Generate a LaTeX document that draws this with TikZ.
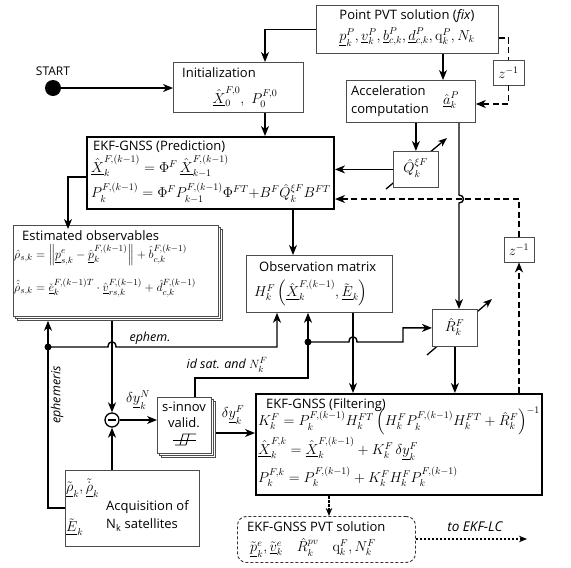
\documentclass[tikz,border=0pt]{standalone}
\usepackage{amsmath}
\usepackage[no-math]{fontspec}
\setsansfont{Open Sans}
\usetikzlibrary{arrows.meta,calc}
\begin{document}
\begin{tikzpicture}[x=1pt,y=-1pt,
 bx/.style={draw=black!70, line width=0.8pt, fill=white, inner sep=0pt, anchor=north west},
 tbx/.style={draw=black, line width=2pt, fill=white, inner sep=0pt, anchor=north west},
 ln/.style={line width=1.4pt},
 ar/.style={ln, -{Stealth[length=10pt,width=8pt,inset=3pt]}},
 dln/.style={ln, dash pattern=on 6pt off 3.5pt},
 dar/.style={ar, dash pattern=on 6pt off 3.5pt},
 dotar/.style={line width=1.1pt, dash pattern=on 2.5pt off 1.5pt, -{Stealth[length=8pt,width=6.5pt,inset=2.5pt]}},
 lab/.style={font=\sffamily\fontsize{13}{15}\selectfont, inner sep=0pt},
 ilab/.style={font=\sffamily\itshape\fontsize{12.5}{14}\selectfont, inner sep=0pt},
 mth/.style={font=\fontsize{14}{16}\selectfont, inner sep=0pt},
 smth/.style={font=\fontsize{13}{15}\selectfont, inner sep=0pt},
 adj/.style={line width=1.3pt, -{Stealth[length=9pt,width=7pt,inset=2.5pt]}},
 jdot/.style={circle, fill=black, inner sep=0pt, minimum size=7pt},
]
\useasboundingbox (0,0) rectangle (571,568);
\fill[white] (0,0) rectangle (571,568);

% ---------- boxes ----------
\node[bx, minimum width=182pt, minimum height=48pt] (pvt) at (316,5) {};
\node[bx, minimum width=130pt, minimum height=50pt] (init) at (173,62) {};
\node[bx, minimum width=129pt, minimum height=42pt] (acc) at (346,80) {};
\node[bx, mth, anchor=center, minimum width=31pt, minimum height=25pt] (z1) at (508.5,72.5) {$z^{-1}$};
\draw[adj] (386,189) -- (447,138);
\node[bx, minimum width=45pt, minimum height=36pt] (qb) at (393,151) {};
\node[tbx, minimum width=247pt, minimum height=72pt] (pred) at (86,136) {};
\node[bx, mth, anchor=center, minimum width=30pt, minimum height=25pt] (z2) at (519,249.5) {$z^{-1}$};
\node[bx, minimum width=205pt, minimum height=91pt] (estb) at (17,229) {};
\node[bx, minimum width=205pt, minimum height=91pt] (estm) at (15,227) {};
\node[bx, minimum width=205pt, minimum height=91pt] (est) at (13,225) {};
\node[bx, minimum width=146pt, minimum height=57pt] (obs) at (246,255) {};
\draw[adj] (427,355) -- (492,299);
\node[bx, minimum width=45pt, minimum height=37pt] (rb) at (432,309) {};
\node[tbx, minimum width=286pt, minimum height=101pt] (filt) at (255,393) {};
\node[bx, minimum width=54pt, minimum height=56pt] (svb) at (161,401) {};
\node[bx, minimum width=54pt, minimum height=56pt] (svm) at (159,399) {};
\node[bx, minimum width=54pt, minimum height=56pt] (sv) at (157,397) {};
\node[circle, draw, line width=1.3pt, fill=white, minimum size=14pt, inner sep=0pt] (minus) at (112,420) {};
\draw[line width=2.2pt] (108,420) -- (116,420);
\node[bx, minimum width=134pt, minimum height=76pt] (acq) at (65,470) {};
\node[draw=black!80, dash pattern=on 3pt off 2pt, line width=0.9pt, rounded corners=9pt, fill=white,
      minimum width=178pt, minimum height=46pt, anchor=north west, inner sep=0pt] (sol) at (237,516) {};
\node[circle, fill=black, minimum size=16pt, inner sep=0pt] (start) at (53,88) {};

% ---------- helper coordinates ----------
\coordinate (x265) at (265,0);
\coordinate (x443) at (443,0);
\coordinate (x459) at (459,0);
\coordinate (x293) at (293,0);
\coordinate (x68) at (68,0);
\coordinate (x48) at (48,0);
\coordinate (x112) at (112,0);
\coordinate (x277) at (277,0);
\coordinate (x308) at (308,0);
\coordinate (x353) at (353,0);
\coordinate (x329) at (329,0);
\coordinate (x195) at (195,0);
\coordinate (y38) at (0,38);
\coordinate (y104) at (0,104);
\coordinate (y199) at (0,199);
\coordinate (y177) at (0,177);
\coordinate (y508) at (0,508);
\coordinate (y433) at (0,433);
\coordinate (y378) at (0,378);
\coordinate (lc) at (527,539);

% ---------- connectors ----------
\draw[ar] (start.east) -- (init.west |- start.east);
\draw[ar] (pvt.west) -| (init.north -| x265);
\draw[ar] (init.south -| x265) -- (pred.north -| x265);
\draw[ar] (pvt.south -| x443) -- (acc.north -| x443);
\draw[dln] (pvt.east |- y38) -| (z1.north);
\draw[dar] (z1.south) |- (acc.east |- y104);
\draw[ar] (acc.south -| qb.north) -- (qb.north);
\draw[ar] (qb.west) -- (pred.east |- qb.west);
\draw[dar] (z2.north) |- (pred.east |- y199);
\draw[ar] (acc.south -| x459) -- (459,195) .. controls (465,195) and (465,203) .. (459,203) -- (rb.north -| x459);
\draw[dar] (filt.north -| z2.south) -- (z2.south);
\draw[ar] (pred.south -| x293) -- (obs.north -| x293);
\draw[ar] (pred.west |- y177) -| (estb.north -| x68);
\draw[ar] (acq.west |- y508) -| (estb.south -| x48);
\node[jdot] (d1) at (48,347) {};
\draw[ar] (d1.center) -- (108,347) .. controls (108,340) and (116,340) .. (116,347) -| (obs.south -| x277);
\draw[ar] (estb.south -| x112) -- (minus.north);
\draw[ar] (acq.north -| minus.south) -- (minus.south);
\draw[ar] (minus.east) -- (sv.west |- minus.east);
\draw[ar] (svb.east |- y433) -- (filt.west |- y433);
\draw[ar] (sv.north -| x195) |- (x308 |- y378) -- (obs.south -| x308);
\node[jdot] (d2) at (308,342) {};
\draw[ar] (d2.center) -- (349,342) .. controls (349,335) and (357,335) .. (357,342) -- (403,342) |- (rb.west);
\draw[ar] (obs.south -| x353) -- (filt.north -| x353);
\draw[ar] (rb.south) -- (filt.north -| rb.south);
\draw[dotar] (filt.south -| x329) -- (sol.north -| x329);
\draw[dotar] (sol.east |- lc) -- (lc);

% ---------- texts ----------
\node[lab, font=\sffamily\fontsize{12}{14}\selectfont] (tstart) at (53,71) {START};
\node[lab] (tpvt) at (407,16) {Point PVT solution (\textit{fix})};
\node[mth] (fpvt) at (407,37) {$\underline{p}_k^P,\underline{v}_k^P,\underline{b}_{c,k}^P,\underline{d}_{c,k}^P,\mathrm{q}_k^P,N_k$};
\node[lab, anchor=west] (tinit) at (182,73) {Initialization};
\node[mth] (finit) at (245,97) {$\hat{\underline{X}}_0^{F,0},\ P_0^{F,0}$};
\node[lab, anchor=west, align=left, font=\sffamily\fontsize{13}{18}\selectfont] (tacc) at (351,101) {Acceleration\\computation};
\node[mth] (facc) at (451,100) {$\hat{\underline{a}}_k^P$};
\node[mth] (fq) at (415.5,168) {$\hat{Q}_k^{\xi F}$};
\node[lab, anchor=west] (tpred) at (93,147) {EKF-GNSS (Prediction)};
\node[mth, anchor=west] (fpred1) at (91,166) {$\hat{\underline{X}}_k^{F,(k-1)} = \Phi^F\,\hat{\underline{X}}_{k-1}^{F,(k-1)}$};
\node[mth, anchor=west] (fpred2) at (91,193) {$P_k^{F,(k-1)} = \Phi^F P_{k-1}^{F,(k-1)}\Phi^{FT}{+}B^F\hat{Q}_k^{\xi F}B^{FT}$};
\node[lab, anchor=west] (test) at (22,236) {Estimated observables};
\node[smth, anchor=west] (fest1) at (14,255) {$\hat\rho_{s,k} = \left\|\underline{p}_{s,k}^e - \hat{\underline{p}}_k^{F,(k-1)}\right\| + \hat{b}_{c,k}^{F,(k-1)}$};
\node[smth, anchor=west] (fest2) at (14,288) {$\hat{\dot\rho}_{s,k} = \check{\underline{e}}_k^{F,(k-1)T}\cdot\hat{\underline{v}}_{rs,k}^{F,(k-1)} + \hat{d}_{c,k}^{F,(k-1)}$};
\node[lab, anchor=west] (tobs) at (259,267) {Observation matrix};
\node[mth, anchor=west] (fobs) at (254,293) {$H_k^F\left(\hat{\underline{X}}_k^{F,(k-1)},\tilde{\underline{E}}_k\right)$};
\node[mth] (fr) at (454.5,327) {$\hat{R}_k^F$};
\node[lab, anchor=west] (tfilt) at (266,405) {EKF-GNSS (Filtering)};
\node[mth, anchor=west] (ffilt1) at (258,421) {$K_k^F = P_k^{F,(k-1)}H_k^{FT}\left(H_k^FP_k^{F,(k-1)}H_k^{FT}+\hat{R}_k^F\right)^{-1}$};
\node[mth, anchor=west] (ffilt2) at (258,449) {$\hat{\underline{X}}_k^{F,k} = \hat{\underline{X}}_k^{F,(k-1)} + K_k^F\,\delta\underline{y}_k^F$};
\node[mth, anchor=west] (ffilt3) at (258,477) {$P_k^{F,k} = P_k^{F,(k-1)} + K_k^F H_k^F P_k^{F,(k-1)}$};
\node[lab] (tsv1) at (184,407) {s-innov};
\node[lab] (tsv2) at (184,423) {valid.};
\draw[line width=0.8pt] (173,440) -- (196,440);
\draw[line width=0.8pt] (175,445) -- (186,445) -- (189,434) -- (196,434);
\draw[line width=0.8pt] (180,445) -- (183,434) -- (189,434);
\node[mth] (fdyn) at (138,400) {$\delta\underline{y}_k^N$};
\node[mth] (fdyf) at (233,415) {$\delta\underline{y}_k^F$};
\node[mth, anchor=west] (facq1) at (66,488) {$\tilde{\underline{\rho}}_k,\tilde{\dot{\underline{\rho}}}_k$};
\node[mth, anchor=west] (facq2) at (66,527) {$\tilde{\underline{E}}_k$};
\node[lab, anchor=west, align=left, font=\sffamily\fontsize{13}{18}\selectfont] (tacq) at (106,516) {Acquisition of\\N\textsubscript{k} satellites};
\node[lab, anchor=west] (tsol) at (247,527) {EKF-GNSS PVT solution};
\node[mth, anchor=west] (fsol) at (250,548) {$\tilde{\underline{p}}_k^e,\tilde{\underline{v}}_k^e\quad\hat{R}_k^{pv}\quad\mathrm{q}_k^F,N_k^F$};
\node[ilab] (tephem) at (150,338) {ephem.};
\node[ilab, rotate=90] (tephemeris) at (57,395) {ephemeris};
\node[ilab] (tidsat) at (227,365) {id sat. and \upshape$\fontsize{14}{16}\selectfont N_k^F$};
\node[ilab, font=\sffamily\itshape\fontsize{13.5}{15}\selectfont] (tlc) at (475,527) {to EKF-LC};
\end{tikzpicture}
\end{document}
